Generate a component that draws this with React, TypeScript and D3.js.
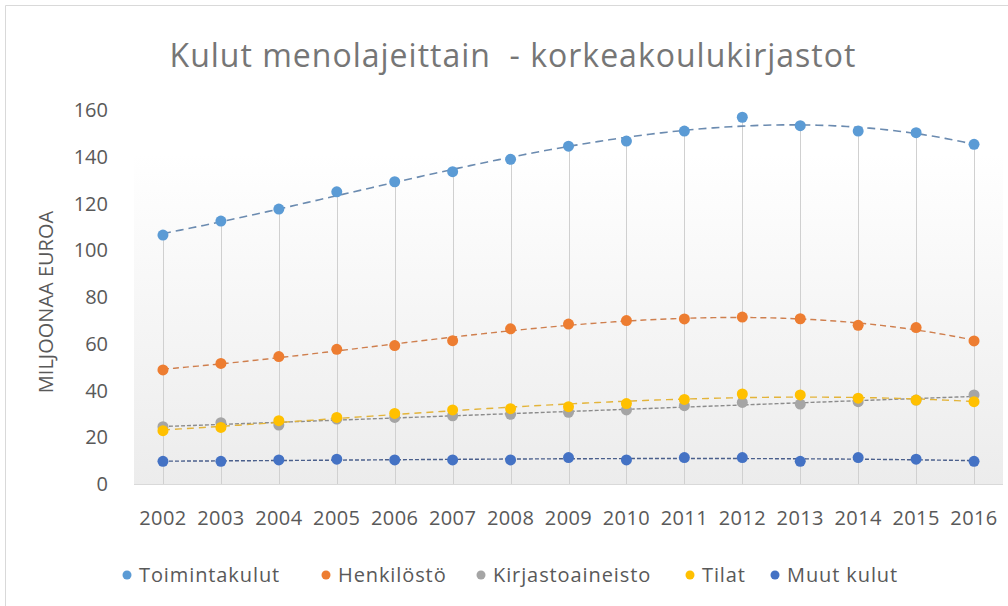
import * as d3 from "d3";
import { useEffect, useRef } from "react";

const YEARS = ["2002", "2003", "2004", "2005", "2006", "2007", "2008", "2009", "2010", "2011", "2012", "2013", "2014", "2015", "2016"];

const TOIMINTAKULUT = [106.5, 112.5, 117.6, 125, 129.3, 133.6, 138.9, 144.5, 146.7, 151, 156.9, 153.3, 151, 150.3, 145.3];
const HENKILOSTO = [48.8, 51.6, 54.5, 57.6, 59.2, 61.3, 66.4, 68.4, 69.9, 70.6, 71.4, 70.7, 67.9, 66.9, 61.2];
const KIRJASTOAINEISTO = [24.5, 26.2, 25.2, 27.8, 28.5, 29.2, 29.8, 30.7, 31.7, 33.5, 34.9, 34.2, 35.2, 35.9, 38.1];
const TILAT = [22.8, 24.2, 27.1, 28.5, 30.2, 31.7, 32.2, 33.1, 34.4, 36.2, 38.5, 38.1, 36.7, 35.9, 35.2];
const MUUT_KULUT = [9.7, 9.7, 10.3, 10.6, 10.3, 10.3, 10.3, 11.3, 10.3, 11.3, 11.3, 9.7, 11.3, 10.6, 9.7];

const Y_TICKS = [0, 20, 40, 60, 80, 100, 120, 140, 160];

const SERIES = [
  { name: "Toimintakulut", values: TOIMINTAKULUT, color: "#5B9BD5", trend: "#6b8bb0", dash: "8,5", width: 1.6 },
  { name: "Henkilöstö", values: HENKILOSTO, color: "#ED7D31", trend: "#cf7f4e", dash: "6,4", width: 1.4 },
  { name: "Kirjastoaineisto", values: KIRJASTOAINEISTO, color: "#A5A5A5", trend: "#8c8c8c", dash: "4,2", width: 1.4 },
  { name: "Tilat", values: TILAT, color: "#FFC000", trend: "#e3b43a", dash: "7,5", width: 1.4 },
  { name: "Muut kulut", values: MUUT_KULUT, color: "#4472C4", trend: "#4a5f8c", dash: "4,2", width: 1.4 },
];

const LEGEND_X = [127, 326, 481, 690, 775];

const FONT = "'Open Sans', 'Noto Sans', sans-serif";
const TEXT = "#595959";

// least squares polynomial trendline, like Excel's
function polyfit(ys: number[], degree: number) {
  const n = ys.length;
  const xs = ys.map((_, i) => i / (n - 1));
  const m = degree + 1;
  const A = Array.from({ length: m }, () => new Array(m + 1).fill(0));
  for (let r = 0; r < m; r++) {
    for (let c = 0; c < m; c++) A[r][c] = d3.sum(xs, (x) => x ** (r + c));
    A[r][m] = d3.sum(xs, (x, i) => ys[i] * x ** r);
  }
  for (let i = 0; i < m; i++) {
    let p = i;
    for (let k = i + 1; k < m; k++) if (Math.abs(A[k][i]) > Math.abs(A[p][i])) p = k;
    [A[i], A[p]] = [A[p], A[i]];
    for (let k = i + 1; k < m; k++) {
      const f = A[k][i] / A[i][i];
      for (let j = i; j <= m; j++) A[k][j] -= f * A[i][j];
    }
  }
  const coef = new Array(m).fill(0);
  for (let i = m - 1; i >= 0; i--) {
    let s = A[i][m];
    for (let j = i + 1; j < m; j++) s -= A[i][j] * coef[j];
    coef[i] = s / A[i][i];
  }
  return (idx: number) => {
    const t = idx / (n - 1);
    return coef.reduce((acc, c, k) => acc + c * t ** k, 0);
  };
}

const App = () => {
  const svgRef = useRef<SVGSVGElement | null>(null);

  useEffect(() => {
    if (!svgRef.current) return;
    const width = 1008;
    const height = 606;
    const plot = { left: 134, right: 1003, top: 95, bottom: 484 };

    const svg = d3.select(svgRef.current);
    svg.selectAll("*").remove();

    svg.append("rect").attr("width", width).attr("height", height).attr("fill", "#fff");
    // chart border (only top and left visible)
    svg.append("line").attr("x1", 5.5).attr("x2", width).attr("y1", 5.5).attr("y2", 5.5).attr("stroke", "#d9d9d9");
    svg.append("line").attr("x1", 5.5).attr("x2", 5.5).attr("y1", 5.5).attr("y2", height).attr("stroke", "#d9d9d9");

    const defs = svg.append("defs");
    const grad = defs.append("linearGradient").attr("id", "plotbg").attr("x1", 0).attr("x2", 0).attr("y1", 0).attr("y2", 1);
    grad.append("stop").attr("offset", "0.15").attr("stop-color", "#ffffff");
    grad.append("stop").attr("offset", "1").attr("stop-color", "#ececec");

    svg
      .append("rect")
      .attr("x", plot.left)
      .attr("y", plot.top)
      .attr("width", plot.right - plot.left)
      .attr("height", plot.bottom - plot.top)
      .attr("fill", "url(#plotbg)");

    const x = d3.scalePoint<string>().domain(YEARS).range([plot.left, plot.right]).padding(0.5);
    const xi = d3.scaleLinear().domain([0, YEARS.length - 1]).range([x(YEARS[0])!, x(YEARS[YEARS.length - 1])!]);
    const y = d3.scaleLinear().domain([0, 160]).range([484, 110]);

    // title
    svg
      .append("text")
      .attr("x", 513)
      .attr("y", 67)
      .attr("text-anchor", "middle")
      .attr("font-family", FONT)
      .attr("font-size", 32)
      .attr("letter-spacing", 1)
      .attr("fill", "#767676")
      .attr("xml:space", "preserve")
      .text("Kulut menolajeittain  - korkeakoulukirjastot");

    // y axis title
    svg
      .append("text")
      .attr("transform", `translate(53,302) rotate(-90)`)
      .attr("text-anchor", "middle")
      .attr("font-family", FONT)
      .attr("font-size", 20)
      .attr("fill", TEXT)
      .text("MILJOONAA EUROA");

    // y ticks
    svg
      .append("g")
      .selectAll("text")
      .data(Y_TICKS)
      .join("text")
      .attr("x", 108)
      .attr("y", (d) => y(d))
      .attr("dy", "0.35em")
      .attr("text-anchor", "end")
      .attr("font-family", FONT)
      .attr("font-size", 20)
      .attr("fill", TEXT)
      .text((d) => d);

    // x axis
    svg
      .append("line")
      .attr("x1", plot.left)
      .attr("x2", plot.right)
      .attr("y1", y(0) + 0.5)
      .attr("y2", y(0) + 0.5)
      .attr("stroke", "#d9d9d9");

    svg
      .append("g")
      .selectAll("text")
      .data(YEARS)
      .join("text")
      .attr("x", (d) => x(d)!)
      .attr("y", 525)
      .attr("text-anchor", "middle")
      .attr("font-family", FONT)
      .attr("font-size", 20)
      .attr("letter-spacing", 0.4)
      .attr("fill", TEXT)
      .text((d) => d);

    // drop lines from the top series
    const maxVals = YEARS.map((_, i) => d3.max(SERIES, (s) => s.values[i])!);
    svg
      .append("g")
      .selectAll("line")
      .data(YEARS)
      .join("line")
      .attr("x1", (d) => Math.round(x(d)!) + 0.5)
      .attr("x2", (d) => Math.round(x(d)!) + 0.5)
      .attr("y1", (_, i) => y(maxVals[i]))
      .attr("y2", y(0))
      .attr("stroke", "#d0d0d0")
      .attr("stroke-width", 1);

    // trendlines
    const samples = d3.range(0, YEARS.length - 1 + 0.001, 0.1);
    const line = d3
      .line<number>()
      .x((i) => xi(i))
      .curve(d3.curveLinear);
    SERIES.forEach((s) => {
      const f = polyfit(s.values, 3);
      svg
        .append("path")
        .attr("d", line.y((i) => y(f(i)))(samples))
        .attr("fill", "none")
        .attr("stroke", s.trend)
        .attr("stroke-width", s.width)
        .attr("stroke-dasharray", s.dash);
    });

    // markers
    SERIES.forEach((s) => {
      svg
        .append("g")
        .selectAll("circle")
        .data(s.values)
        .join("circle")
        .attr("cx", (_, i) => x(YEARS[i])!)
        .attr("cy", (d) => y(d))
        .attr("r", 5.5)
        .attr("fill", s.color);
    });

    // legend
    const legend = svg
      .append("g")
      .selectAll("g")
      .data(SERIES)
      .join("g")
      .attr("transform", (_, i) => `translate(${LEGEND_X[i]},575)`);
    legend.append("circle").attr("r", 4.5).attr("fill", (d) => d.color);
    legend
      .append("text")
      .attr("x", 12)
      .attr("dy", "0.35em")
      .attr("font-family", FONT)
      .attr("font-size", 20)
      .attr("letter-spacing", 0.9)
      .attr("fill", TEXT)
      .text((d) => d.name);
  }, []);

  return (
    <svg
      ref={svgRef}
      width={1008}
      height={606}
      style={{ position: "absolute", left: 0, top: 0 }}
    />
  );
};

export default App;
